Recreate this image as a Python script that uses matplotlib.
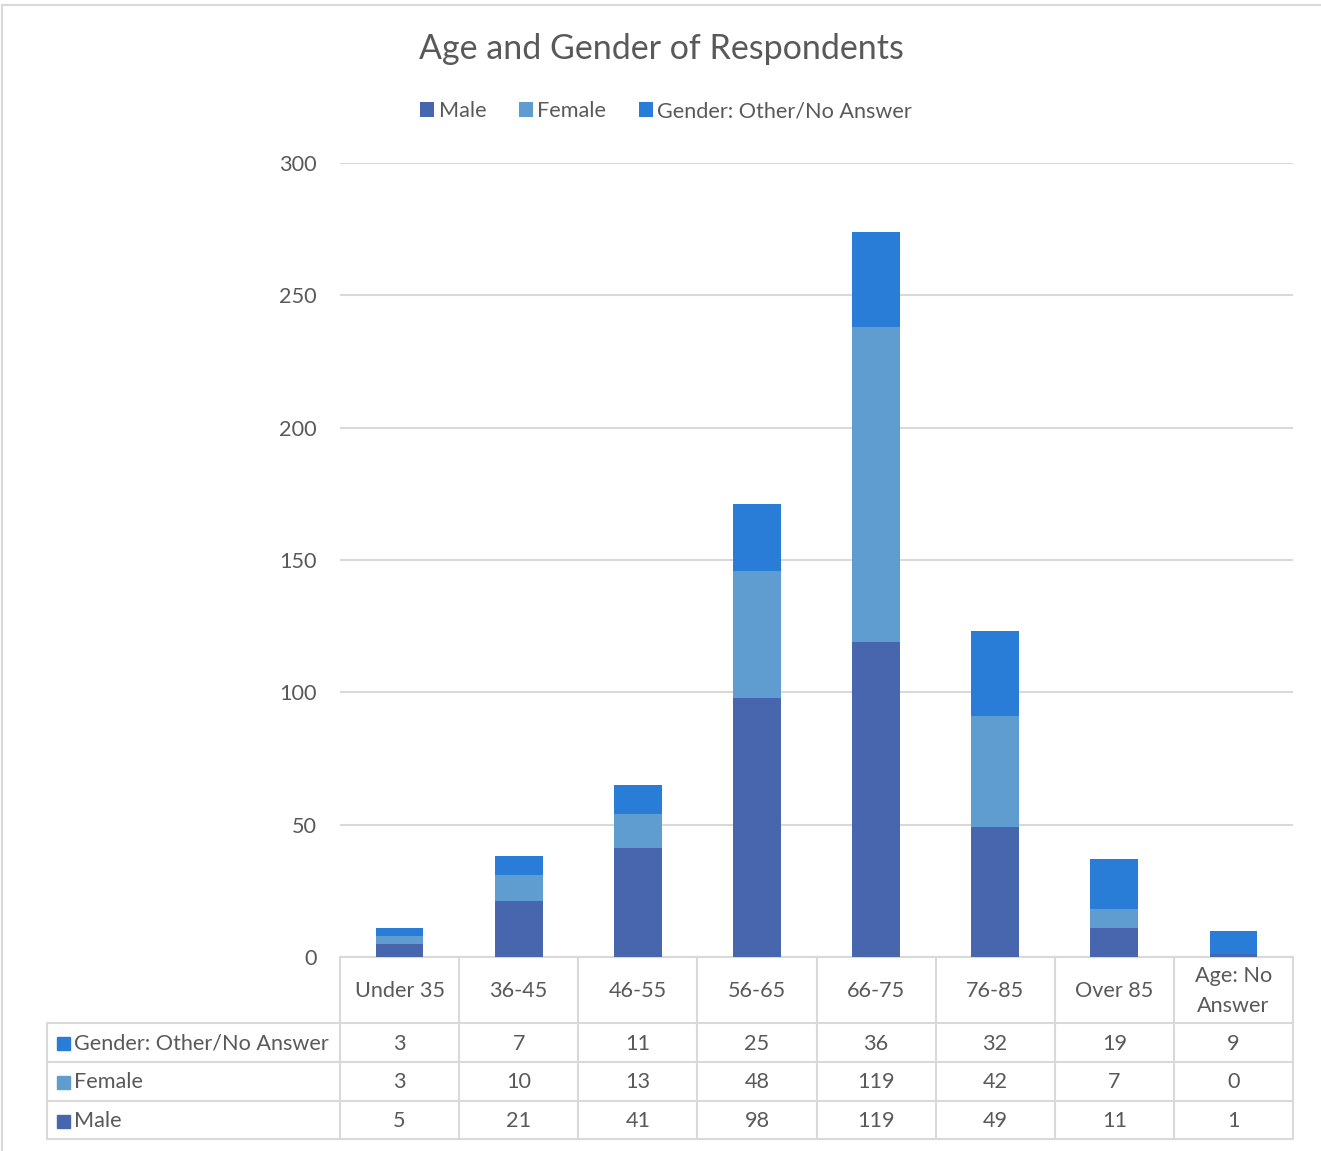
import numpy as np
import matplotlib
matplotlib.use("Agg")
from matplotlib import pyplot as plt
from matplotlib.lines import Line2D
from matplotlib.patches import Rectangle

plt.rcParams['font.family'] = ['Lato', 'DejaVu Sans']

categories = ["Under 35", "36-45", "46-55", "56-65", "66-75", "76-85", "Over 85", "Age: No\nAnswer"]
male = [5, 21, 41, 98, 119, 49, 11, 1]
female = [3, 10, 13, 48, 119, 42, 7, 0]
other = [3, 7, 11, 25, 36, 32, 19, 9]
series_names = ["Male", "Female", "Gender: Other/No Answer"]
colors = ["#4866AD", "#5F9DD1", "#2A7DD6"]
yticks = [0, 50, 100, 150, 200, 250, 300]

W, H = 1321, 1151
fig = plt.figure(figsize=(W / 100, H / 100), dpi=100)
txt = "#595959"
grid = "#D9D9D9"
fs = 15.6

# plot area in pixels
left, right, top, bottom = 340, 1293, 163, 957
ax = fig.add_axes([left / W, 1 - bottom / H, (right - left) / W, (bottom - top) / H])

x = np.arange(len(categories))
data = [male, female, other]
base = np.zeros(len(categories))
for vals, name, c in zip(data, series_names, colors):
    ax.bar(x, vals, width=0.4, bottom=base, color=c, label=name, zorder=3)
    base += np.array(vals)

ax.set_xlim(-0.5, len(categories) - 0.5)
ax.set_ylim(0, 300)
ax.set_yticks(yticks)
ax.set_yticklabels([str(v) for v in yticks], fontsize=fs, color=txt)
ax.tick_params(axis='y', length=0, pad=17)
ax.set_xticks([])
ax.yaxis.grid(True, color=grid, linewidth=1.5, zorder=0)
for s in ax.spines.values():
    s.set_visible(False)

# data table below the axis
ax_px = bottom - top
def ay(py):
    return (bottom - py) / ax_px

row_lines = [957, 1023, 1062, 1101, 1139]
col_left_ax = (47 - left) / (right - left)
tr = ax.get_xaxis_transform()
lkw = dict(color=grid, linewidth=1.5, clip_on=False)

# horizontal lines
ax.add_line(Line2D([-0.5, len(categories) - 0.5], [ay(row_lines[0])] * 2, transform=tr, **lkw))
for py in row_lines[1:]:
    ax.add_line(Line2D([col_left_ax, 1], [ay(py)] * 2, transform=ax.transAxes, **lkw))
# vertical lines
for i in range(len(categories) + 1):
    ax.add_line(Line2D([i - 0.5] * 2, [ay(row_lines[0]), ay(row_lines[-1])], transform=tr, **lkw))
ax.add_line(Line2D([col_left_ax] * 2, [ay(row_lines[1]), ay(row_lines[-1])], transform=ax.transAxes, **lkw))

# header labels
hy = ay((row_lines[0] + row_lines[1]) / 2 + 1)
for i, c in enumerate(categories):
    ax.text(i, hy, c, transform=tr, ha='center', va='center', fontsize=fs,
            color=txt, linespacing=1.65)

# rows: other, female, male
rows = [(other, series_names[2], colors[2]), (female, series_names[1], colors[1]), (male, series_names[0], colors[0])]
for r, (vals, name, c) in enumerate(rows):
    cy = ay((row_lines[r + 1] + row_lines[r + 2]) / 2 + 1)
    for i, v in enumerate(vals):
        ax.text(i, cy, str(v), transform=tr, ha='center', va='center', fontsize=fs, color=txt)
    sq = 13 / (right - left)
    ax.add_patch(Rectangle((col_left_ax + 10 / (right - left), cy - 6.5 / ax_px), sq, 13 / ax_px,
                           transform=ax.transAxes, color=c, clip_on=False))
    ax.text(col_left_ax + 27 / (right - left), cy, name, transform=ax.transAxes,
            ha='left', va='center', fontsize=fs, color=txt)

fig.text(0.5 + 1 / W, 1 - 49 / H, "Age and Gender of Respondents", ha='center', va='center',
         fontsize=24.5, color=txt)

leg = fig.legend(loc='center', bbox_to_anchor=(666 / W, 1 - 111 / H), ncol=3, frameon=False,
                 fontsize=fs, handlelength=0.65, handleheight=0.65, handletextpad=0.2,
                 columnspacing=1.5)
for t in leg.get_texts():
    t.set_color(txt)

# outer chart border (top and left only visible)
fig.add_artist(Line2D([2 / W, 1], [1 - 4.5 / H] * 2, color=grid, linewidth=1.5))
fig.add_artist(Line2D([2 / W] * 2, [0, 1 - 4.5 / H], color=grid, linewidth=1.5))

fig.savefig("out.png", dpi=100)
